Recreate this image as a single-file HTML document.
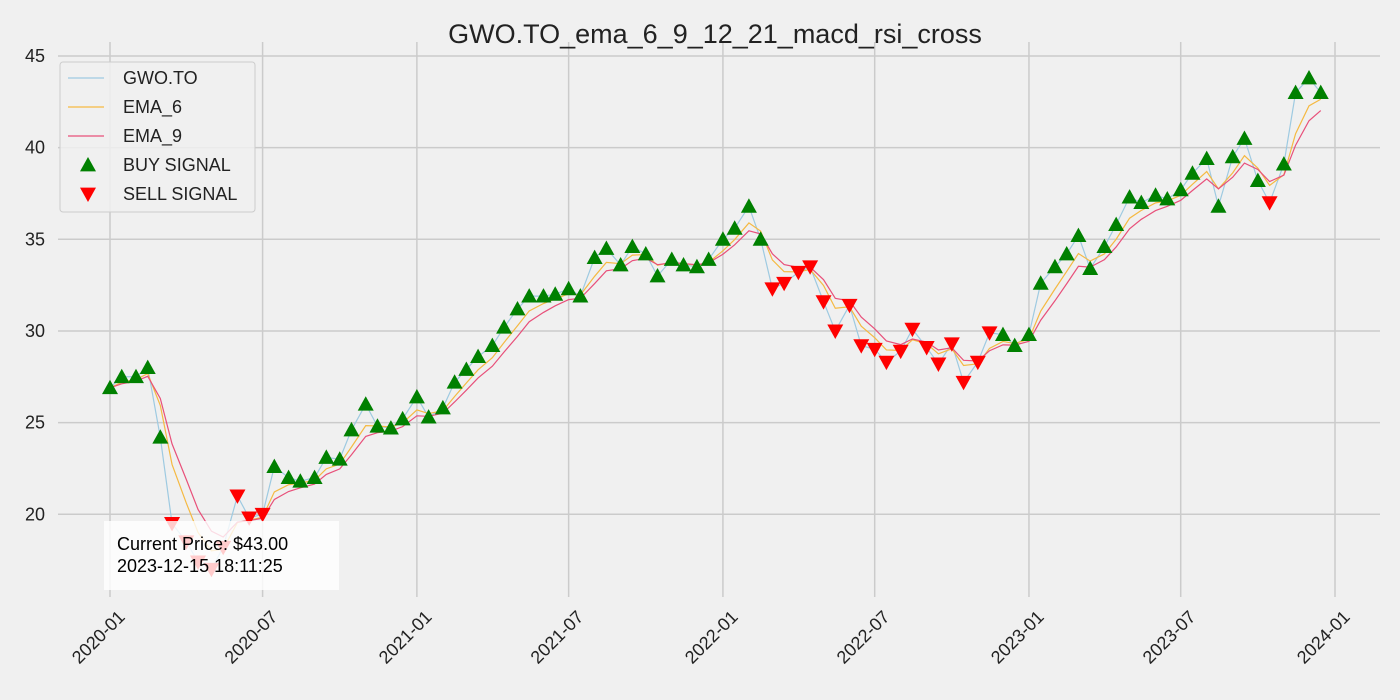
<!DOCTYPE html>
<html><head><meta charset="utf-8"><style>
body{margin:0;background:#f0f0f0;font-family:"Liberation Sans","DejaVu Sans",sans-serif}
svg{display:block}
</style></head><body>
<svg id="c" width="1400" height="700"></svg>
<script>
const dates=[];for(let y=2020;y<=2023;y++)for(let m=1;m<=12;m++){dates.push(y+'-'+String(m).padStart(2,'0')+'-01');dates.push(y+'-'+String(m).padStart(2,'0')+'-15');}
const prices=[26.9,27.5,27.5,28.0,24.2,19.5,18.5,17.4,17.0,18.2,21.0,19.8,20.0,22.6,22.0,21.8,22.0,23.1,23.0,24.6,26.0,24.8,24.7,25.2,
26.4,25.3,25.8,27.2,27.9,28.6,29.2,30.2,31.2,31.9,31.9,32.0,32.3,31.9,34.0,34.5,33.6,34.6,34.2,33.0,33.9,33.6,33.5,33.9,
35.0,35.6,36.8,35.0,32.3,32.6,33.2,33.5,31.6,30.0,31.4,29.2,29.0,28.3,28.9,30.1,29.1,28.2,29.3,27.2,28.3,29.9,29.8,29.2,
29.8,32.6,33.5,34.2,35.2,33.4,34.6,35.8,37.3,37.0,37.4,37.2,37.7,38.6,39.4,36.8,39.5,40.5,38.2,37.0,39.1,43.0,43.8,43.0];
const signals=("BBBBB"+"SSSSSSSS"+"BBBBBBBBBBB"+"BBBBBBBBBBBBBBBBBBBBBBBB"+"BBBB"+"SSSSSSSSSSSSSSSSSS"+"BB"+"BBBBBBBBBBBBBBBBBBB"+"S"+"BBBB").split('');
const xTicks=['2020-01','2020-07','2021-01','2021-07','2022-01','2022-07','2023-01','2023-07','2024-01'];
const yTicks=[20,25,30,35,40,45];
const NS='http://www.w3.org/2000/svg',svg=document.getElementById('c');
const t0=Date.UTC(2020,0,1),t1=Date.UTC(2024,0,1);
function xs(d){const p=d.split('-');return 110+(Date.UTC(+p[0],+p[1]-1,p[2]?+p[2]:1)-t0)/(t1-t0)*(1335-110);}
function ys(v){return 56+(45-v)*18.33;}
function el(t,a,p){const e=document.createElementNS(NS,t);for(const k in a)e.setAttribute(k,a[k]);(p||svg).appendChild(e);return e;}
function ema(n){const a=2/(n+1);let r=[],v=prices[0];prices.forEach(p=>{v=a*p+(1-a)*v;r.push(v);});return r;}
const e6=ema(3),e9=ema(4.5);
xTicks.forEach(t=>{const x=xs(t);
const g=el('line',{x1:x,x2:x,y1:42,y2:597,stroke:'#cbcbcb','stroke-width':1.5});

const tx=el('text',{x:x+16,y:618,'font-size':18,fill:'#222','text-anchor':'end',transform:`rotate(-45 ${x+16} 618)`});tx.textContent=t;
});
yTicks.forEach(v=>{const y=ys(v);
const g=el('line',{x1:58,x2:1380,y1:y,y2:y,stroke:'#cbcbcb','stroke-width':1.5});

const tx=el('text',{x:45,y:y+6,'font-size':18,fill:'#222','text-anchor':'end'});tx.textContent=v;
});
function line(arr,c,w,name){const l=el('polyline',{points:arr.map((v,i)=>xs(dates[i])+','+ys(v)).join(' '),fill:'none',stroke:c,'stroke-width':w});
}
line(prices,'#9ecae1',1.2,'price-line');line(e6,'#f5b942',1.2,'ema-6-line');line(e9,'#e8507a',1.2,'ema-9-line');
function tri(x,y,up,c){const s=8;const pts=up?`${x},${y-s} ${x-s},${y+s*0.8} ${x+s},${y+s*0.8}`:`${x},${y+s} ${x-s},${y-s*0.8} ${x+s},${y-s*0.8}`;return el('polygon',{points:pts,fill:c});}
for(let i=0;i<prices.length&&i<signals.length;i++){const s=signals[i];if(s!=='B'&&s!=='S')continue;
const m=tri(xs(dates[i]),ys(prices[i]),s==='B',s==='B'?'#008000':'#ff0000');

}
const tt=el('text',{x:715,y:43,'font-size':27,fill:'#222','text-anchor':'middle'});tt.textContent='GWO.TO_ema_6_9_12_21_macd_rsi_cross';

const lg=el('g',{});
el('rect',{x:60,y:62,width:195,height:150,rx:3,fill:'#f0f0f0','fill-opacity':0.85,stroke:'#ccc'},lg);
[['GWO.TO','#9ecae1','l'],['EMA_6','#f5b942','l'],['EMA_9','#e8507a','l'],['BUY SIGNAL','#008000','b'],['SELL SIGNAL','#ff0000','s']].forEach((d,i)=>{
const y=78+i*29;let m;
if(d[2]==='l')m=el('line',{x1:68,x2:104,y1:y,y2:y,stroke:d[1],'stroke-width':1.2},lg);else{m=tri(88,y,d[2]==='b',d[1]);lg.appendChild(m);}

const t=el('text',{x:123,y:y+6,'font-size':18,fill:'#222'},lg);t.textContent=d[0];
});
const ib=el('g',{});
el('rect',{x:104,y:521,width:235,height:69,fill:'#fff','fill-opacity':0.8},ib);
const a1=el('text',{x:117,y:550,'font-size':18,fill:'#000'},ib);a1.textContent='Current Price: $43.00';
const a2=el('text',{x:117,y:572,'font-size':18,fill:'#000'},ib);a2.textContent='2023-12-15 18:11:25';
</script>
</body></html>
